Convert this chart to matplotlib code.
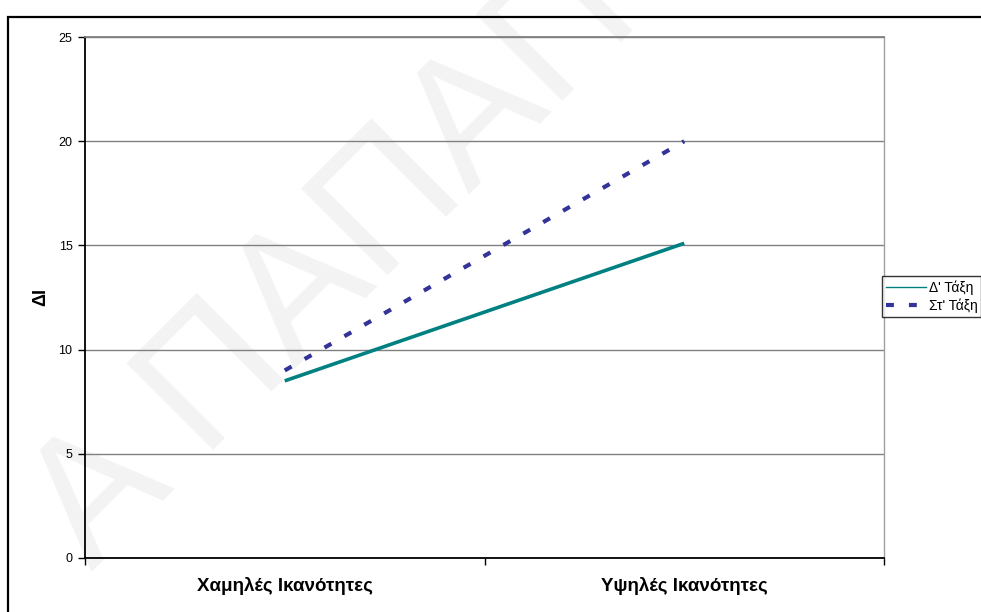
import matplotlib
matplotlib.use('Agg')
import matplotlib.pyplot as plt
from matplotlib.lines import Line2D
from matplotlib.patches import Rectangle

plt.rcParams['font.family'] = ['Liberation Sans', 'DejaVu Sans']

categories = ['Χαμηλές Ικανότητες', 'Υψηλές Ικανότητες']
series_names = ["Δ' Τάξη", "Στ' Τάξη"]
grade_d = [8.5, 15.1]
grade_st = [9.0, 20.0]
y_ticks = [0, 5, 10, 15, 20, 25]

TEAL = '#008080'
NAVY = '#333399'
DASH = (0, (1.9, 3.6))

W, H = 981, 612
fig = plt.figure(figsize=(W / 100, H / 100), dpi=100)
fig.patch.set_facecolor('white')

# faint watermark behind the chart
fig.text(92 / W, 1 - 572 / H, 'Α ΠΑΠΑΠ', fontsize=128, color='#f3f3f3',
         rotation=45, rotation_mode='anchor', ha='left', va='baseline',
         zorder=-5)

# outer chart frame
fig.patches.append(Rectangle((8 / W, -0.1), 1.2, 1 - 17 / H + 0.1,
                             transform=fig.transFigure, fill=False,
                             edgecolor='black', linewidth=1.6, zorder=1))

ax = fig.add_axes([85 / W, 1 - 558 / H, (884 - 85) / W, (558 - 37) / H])
ax.patch.set_visible(False)

x = [0.5, 1.5]
ax.plot(x, grade_d, color=TEAL, linewidth=2.6, solid_capstyle='butt', zorder=3)
ax.plot(x, grade_st, color=NAVY, linewidth=3.0, linestyle=DASH, zorder=3)

ax.set_xlim(0, 2)
ax.set_ylim(0, 25)
ax.set_yticks(y_ticks)
ax.set_yticklabels([str(v) for v in y_ticks], fontsize=9)
ax.set_xticks([0, 1, 2])
ax.set_xticklabels([])
ax.set_xticks(x, minor=True)
ax.set_xticklabels(categories, minor=True, fontsize=13.5, fontweight='bold')
ax.tick_params(axis='x', which='minor', length=0, pad=14)
ax.tick_params(axis='both', which='major', direction='out', length=5,
               width=1, color='black', pad=4)

ax.grid(axis='y', color='#808080', linewidth=1)
ax.set_axisbelow(True)
for side in ['left', 'bottom']:
    ax.spines[side].set_color('black')
    ax.spines[side].set_linewidth(1.3)
ax.spines['right'].set_color('#a0a0a0')
ax.spines['right'].set_linewidth(1)
ax.spines['top'].set_color('#808080')
ax.spines['top'].set_linewidth(1.3)

fig.text(41 / W, 1 - 297 / H, 'ΔΙ', rotation=90, ha='center', va='center',
         fontsize=13, fontweight='bold')

handles = [Line2D([], [], color=TEAL, linewidth=1),
           Line2D([], [], color=NAVY, linewidth=3, linestyle=DASH)]
leg = fig.legend(handles, series_names, loc='upper left',
                 bbox_to_anchor=(882 / W, 1 - 276 / H), fontsize=10,
                 frameon=True, fancybox=False, edgecolor='black',
                 handlelength=2.9, handletextpad=0.15, borderpad=0.3,
                 labelspacing=0.3, borderaxespad=0)
leg.get_frame().set_linewidth(1)

fig.savefig('out.png', dpi=100, facecolor='white')
